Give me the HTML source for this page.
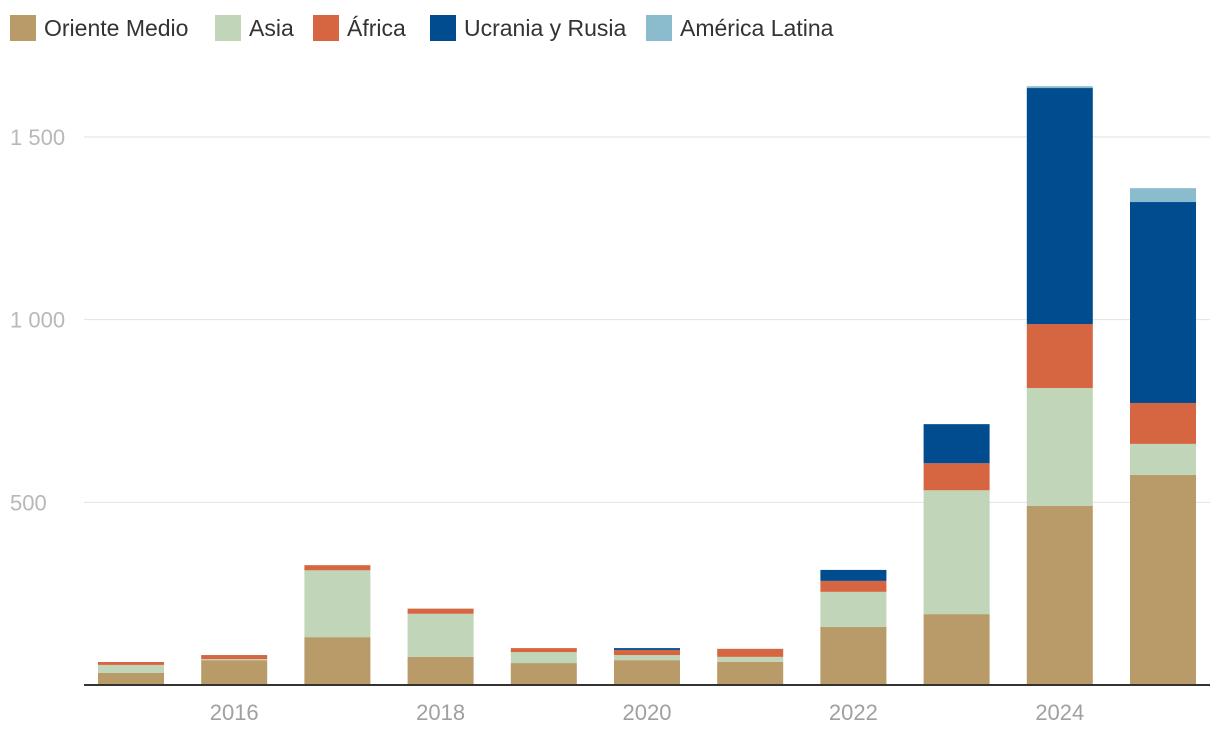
<!DOCTYPE html>
<html><head><meta charset="utf-8"><style>
body{margin:0;background:#fff;font-family:"Liberation Sans",sans-serif;}
svg text{font-family:"Liberation Sans",sans-serif;}
</style></head><body>
<svg id="chart" width="1220" height="744"></svg>
<script>
const years=[2015,2016,2017,2018,2019,2020,2021,2022,2023,2024,2025];
const seriesNames=["Oriente Medio","Asia","África","Ucrania y Rusia","América Latina"];
const colors=["#b99a69","#c1d5b8","#d66541","#004c8f","#8abccd"];
const orienteMedio=[33,68,131,77,60,68,63,159,194,490,575];
const asia=[22,3,183,118,30,14,14,96,339,323,85];
const africa=[8,11,14,14,11,14,22,30,74,175,112];
const ucrania=[0,0,0,0,0,5,0,30,107,646,550];
const latam=[0,0,0,0,0,0,0,0,0,5,38];
const yTicks=[500,1000,1500];
const yTickLabels=["500","1 000","1 500"];
const xTickYears=[2016,2018,2020,2022,2024];
const series=[orienteMedio,asia,africa,ucrania,latam];
const NS="http://www.w3.org/2000/svg";
const svg=document.getElementById('chart');
const y0=685, pxPer=548/1500;
const y=v=>y0-v*pxPer;
const x=yr=>131+(yr-2015)*103.2;
const bw=66;
function mk(t,a){const e=document.createElementNS(NS,t);for(const k in a)e.setAttribute(k,a[k]);svg.appendChild(e);return e;}
yTicks.forEach((v,i)=>{
 const g=mk('line',{x1:84,x2:1210,y1:y(v),y2:y(v),stroke:'#e2e2e2','stroke-width':1});
 
 
 const t=mk('text',{x:10,y:y(v)+8,'font-size':22,fill:'#b8b8b8'});
 t.textContent=yTickLabels[i];
 
 
});
years.forEach((yr,i)=>{
 let acc=0;
 series.forEach((s,j)=>{
  const v=s[i]; if(v<=0)return;
  const r=mk('rect',{x:x(yr)-bw/2,y:y(acc+v),width:bw,height:v*pxPer,fill:colors[j]});
  
  
  acc+=v;
 });
});
const ax=mk('line',{x1:84,x2:1210,y1:y0,y2:y0,stroke:'#333','stroke-width':2});


xTickYears.forEach(yr=>{
 const t=mk('text',{x:x(yr),y:720,'font-size':22,fill:'#a0a0a0','text-anchor':'middle'});
 t.textContent=yr;
 
 
});
const lxs=[10,215,313,430,646];
seriesNames.forEach((n,j)=>{
 const lx=lxs[j];
 const r=mk('rect',{x:lx,y:15,width:26,height:26,fill:colors[j]});
 
 
 const t=mk('text',{x:lx+34,y:36,'font-size':23,fill:'#333'});
 t.textContent=n;
 
 
});
</script>
</body></html>
